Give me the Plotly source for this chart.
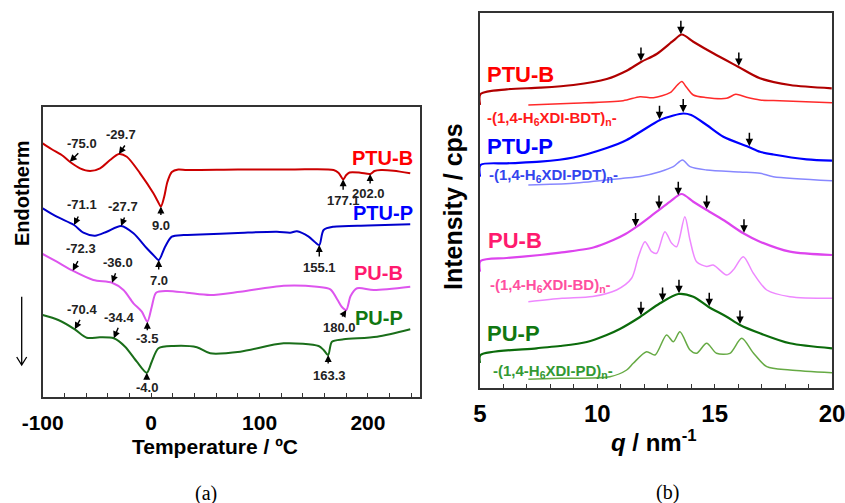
import numpy as np
import plotly.graph_objects as go

# ---------------- Panel (a): DSC ----------------
T_PTUB = [-100, -92, -82.5, -75.0, -65.6, -56.3, -47.1, -37.9, -29.7, -22.4, -10.2, 2.1, 6, 9.0, 12, 15, 19.1, 25, 33, 80, 130, 168.3, 173, 177.1, 180, 183, 193, 202.0, 206, 212, 223.7, 239]
Y_PTUB = [253.7, 248, 242, 235.3, 228.7, 226, 228.7, 237, 243, 240.3, 223.7, 203.7, 196, 190.5, 200, 215, 225, 227.5, 227, 227.5, 227.5, 227, 224, 217.7, 222, 224.5, 224.3, 223, 226, 227, 226.3, 223.7]

T_PTUP = [-100, -87, -71.1, -62.5, -51.7, -40.9, -27.7, -16.3, -4, 2, 7.0, 12.9, 19.1, 30, 45.2, 80, 116, 128.3, 134.5, 145.3, 151, 155.1, 159.1, 168.3, 200, 239]
Y_PTUP = [188.7, 180.3, 172, 164.3, 161.3, 165.3, 171, 163.7, 148.7, 142, 137, 150.3, 160.3, 162, 162.5, 164, 165.3, 164.3, 165.7, 160.3, 155, 152, 167, 170.3, 171.5, 172.7]

T_PUB = [-100, -87, -72.3, -53.3, -36.0, -25.5, -16.3, -8.6, -3.5, 0.6, 4.6, 14.5, 33, 54.5, 82.2, 122.2, 153, 165.3, 172, 176, 180.0, 184, 190, 205.3, 239]
Y_PUB = [143, 135.3, 126.3, 117, 114.3, 107, 93.7, 85.3, 75.3, 90.3, 104.3, 106, 104.3, 102, 105.3, 111.3, 110.3, 107.7, 97, 90, 87, 101, 108.7, 107, 110.3]

T_PUP = [-100, -85.6, -70.4, -59.4, -47.1, -34.4, -24, -13.2, -4.0, 0.6, 6.8, 20.6, 42.2, 54.5, 82.2, 122.2, 154.5, 159.1, 163.3, 166.8, 177.6, 208.4, 239]
Y_PUP = [82, 77, 67.7, 59.3, 59.7, 58.7, 50.3, 35.3, 24.3, 35.3, 48.7, 51, 49.7, 43.7, 45.3, 53.7, 51, 47, 42, 55.3, 57.7, 60.3, 67.7]

# peak labels for each curve
LAB_PTUB = [-75.0, -29.7, 9.0, 177.1, 202.0]
LAB_PTUP = [-71.1, -27.7, 7.0, 155.1]
LAB_PUB = [-72.3, -36.0, -3.5, 180.0]
LAB_PUP = [-70.4, -34.4, -4.0, 163.3]

TICKS_A = [-100, 0, 100, 200]

# ---------------- Panel (b): WAXS ----------------
Q_PTUB = [5.0, 5.02, 6.14, 7.56, 8.98, 10.4, 11.25, 11.86, 12.53, 13.24, 13.6, 14.09, 14.94, 16.0, 16.93, 18.21, 19.99]
I_PTUB = [283, 294, 298.7, 300.3, 303, 309, 317.3, 326, 334, 347.3, 353.5, 346.3, 334.7, 321.3, 309.7, 303, 299.7]

Q_BDT = [7.06, 8.98, 11.1, 11.82, 12.39, 13.1, 13.41, 13.6, 13.8, 14.09, 14.6, 15.51, 15.9, 16.36, 16.93, 17.5, 20]
I_BDT = [283, 284.7, 287.3, 291.3, 290.3, 295.3, 303, 306.5, 300.7, 293, 290.5, 289.7, 293.7, 290.7, 288, 287.5, 285.3]

Q_PTUP = [5.0, 5.02, 6.14, 7.56, 8.98, 10.4, 11.25, 11.82, 12.67, 13.24, 13.66, 14.0, 14.66, 15.37, 16.43, 16.93, 17.5, 18.92, 20]
I_PTUP = [211.3, 223, 224.7, 226.3, 230.5, 240, 248, 256, 268, 272.5, 274.5, 273, 263, 251.3, 241.3, 236.3, 233.5, 228.7, 227.3]

Q_PDT = [7.06, 8.98, 11.1, 11.82, 12.67, 13.24, 13.63, 13.95, 14.66, 16.08, 16.93, 17.5, 20]
I_PDT = [203, 204.7, 209.7, 211.5, 216.3, 221.3, 228, 221.3, 218, 216, 214.7, 211.3, 207.3]

Q_PUB = [5.0, 5.02, 6.14, 7.56, 8.41, 9.83, 10.68, 11.2, 11.68, 12.53, 13.1, 13.59, 14.09, 14.66, 15.37, 16.22, 16.93, 18.21, 20]
I_PUB = [116.3, 127, 130, 133, 135.3, 140.5, 148, 154, 161.3, 176.3, 186.3, 194, 186.3, 178, 168, 154.7, 146.3, 136.3, 133]

Q_BD = [7.06, 8.5, 9.8, 10.82, 11.46, 11.75, 12.03, 12.32, 12.53, 12.88, 13.17, 13.38, 13.73, 13.95, 14.23, 14.66, 14.94, 15.51, 15.79, 16.22, 16.65, 17.22, 18.21, 20]
I_BD = [86.3, 89.7, 91.5, 98, 109.7, 131.3, 146.3, 136.3, 134.7, 156.3, 144.7, 141.3, 171.3, 148, 126.3, 121.5, 123, 113, 118, 131.3, 114.7, 98, 91.3, 89.7]

Q_PUP = [5.0, 5.02, 7.41, 8.41, 9.55, 10.4, 10.96, 11.82, 12.67, 13.45, 14.09, 14.73, 15.51, 16.08, 16.93, 18.21, 20]
I_PUP = [25, 33, 39.7, 42, 46, 53, 59, 71, 84.7, 94, 91.3, 81.3, 71.3, 63, 54.7, 44.7, 39.7]

Q_PD = [7.06, 8.41, 10.54, 11.25, 11.53, 12.1, 12.46, 12.95, 13.24, 13.52, 13.95, 14.23, 14.66, 15.08, 15.65, 16.15, 16.65, 17.22, 18.21, 20]
I_PD = [8.7, 9.7, 11.3, 18, 24.7, 36.3, 33, 53, 46.3, 56.3, 38, 34.7, 44.7, 34.7, 34.7, 49.7, 35, 21.3, 18, 15.3]

ARR_PTUB = [11.86, 13.56, 16.03]
ARR_PTUP = [12.65, 13.66, 16.48]
ARR_PUB = [11.63, 12.63, 13.45, 14.66, 16.25]
ARR_PUP = [11.86, 12.78, 13.48, 14.77, 16.08]

TICKS_B = [5, 10, 15, 20]

FONT = "Liberation Sans, Arial, sans-serif"
SERIF = "Liberation Serif, Times New Roman, serif"

fig = go.Figure()

def line(x, y, color, width, xa="x", ya="y"):
    fig.add_trace(go.Scatter(x=x, y=y, mode="lines", xaxis=xa, yaxis=ya,
                             line=dict(color=color, width=width, shape="spline", smoothing=0.8),
                             showlegend=False, hoverinfo="skip"))

line(T_PTUB, Y_PTUB, "#cc0000", 2)
line(T_PTUP, Y_PTUP, "#0000cc", 2)
line(T_PUB, Y_PUB, "#dd55ee", 2)
line(T_PUP, Y_PUP, "#1a6e1a", 2)

line(Q_PTUB, I_PTUB, "#b00000", 2.2, "x2", "y2")
line(Q_BDT, I_BDT, "#ff2a2a", 1.5, "x2", "y2")
line(Q_PTUP, I_PTUP, "#0000ff", 2.2, "x2", "y2")
line(Q_PDT, I_PDT, "#8888ff", 1.5, "x2", "y2")
line(Q_PUB, I_PUB, "#dd44ee", 2.2, "x2", "y2")
line(Q_BD, I_BD, "#ee88ff", 1.5, "x2", "y2")
line(Q_PUP, I_PUP, "#0b6b0b", 2.2, "x2", "y2")
line(Q_PD, I_PD, "#66aa44", 1.5, "x2", "y2")

ann = []

# panel a peak arrows + labels: (arrow ax, ay, text xshift, yshift)
STY_PTUB = [(10, -10, 12, 18), (7, -10, 2, 19), (0, 10, 0, -19), (0, 12, 0, -21), (0, 11, -2, -20)]
STY_PTUP = [(5, -10, 8, 20), (4, -10, 2, 19), (0, 11, 0, -20), (0, 13, 0, -22)]
STY_PUB = [(6, -11, 8, 22), (4, -11, 6, 20), (0, 10, 0, -17), (-5, 8, -7, -17)]
STY_PUP = [(6, -11, 7, 20), (5, -12, 5, 21), (0, 8, 0, -15), (0, 10, 1, -20)]

for labs, sty, tx, ty in [(LAB_PTUB, STY_PTUB, T_PTUB, Y_PTUB), (LAB_PTUP, STY_PTUP, T_PTUP, Y_PTUP),
                          (LAB_PUB, STY_PUB, T_PUB, Y_PUB), (LAB_PUP, STY_PUP, T_PUP, Y_PUP)]:
    for v, (ax, ay, xs, ys) in zip(labs, sty):
        yv = float(np.interp(v, tx, ty))
        ann.append(dict(x=v, y=yv, xref="x", yref="y", text="", showarrow=True, ax=ax, ay=ay,
                        arrowhead=2, arrowsize=1, arrowwidth=1.4, arrowcolor="black"))
        ann.append(dict(x=v, y=yv, xref="x", yref="y", text=f"{v:.1f}", showarrow=False,
                        xshift=xs, yshift=ys, font=dict(family=FONT, size=13, color="#222", weight="bold")))

# panel b arrows
for arrs, qx, iy in [(ARR_PTUB, Q_PTUB, I_PTUB), (ARR_PTUP, Q_PTUP, I_PTUP),
                     (ARR_PUB, Q_PUB, I_PUB), (ARR_PUP, Q_PUP, I_PUP)]:
    for q in arrs:
        yv = float(np.interp(q, qx, iy))
        ann.append(dict(x=q, y=yv + 1, xref="x2", yref="y2", text="", showarrow=True, ax=0, ay=-15,
                        arrowhead=2, arrowsize=1, arrowwidth=1.5, arrowcolor="black"))

# sample labels panel a
for txt, col, x, y in [("PTU-B", "#ff0000", 243.8, 238.7), ("PTU-P", "#0000ff", 243.8, 183.7),
                       ("PU-B", "#ff1a6e", 234.5, 123.7), ("PU-P", "#117711", 234.5, 78.7)]:
    ann.append(dict(x=x, y=y, xref="x", yref="y", text=txt, showarrow=False, xanchor="right",
                    font=dict(family=FONT, size=20, color=col, weight="bold")))

# sample labels panel b
for txt, col, size, x, y in [
        ("PTU-B", "#ff0000", 22, 5.21, 314),
        ("-(1,4-H<sub>6</sub>XDI-BDT)<sub>n</sub>-", "#ff1a1a", 15, 5.21, 269.7),
        ("PTU-P", "#0000ff", 22, 5.21, 241.3),
        ("-(1,4-H<sub>6</sub>XDI-PDT)<sub>n</sub>-", "#3344ee", 15, 5.28, 213),
        ("PU-B", "#ff1a6e", 22, 5.26, 148),
        ("-(1,4-H<sub>6</sub>XDI-BD)<sub>n</sub>-", "#ff4fa0", 15, 5.36, 103),
        ("PU-P", "#117711", 22, 5.21, 54.7),
        ("-(1,4-H<sub>6</sub>XDI-PD)<sub>n</sub>-", "#339933", 15, 5.46, 16.3)]:
    ann.append(dict(x=x, y=y, xref="x2", yref="y2", text=txt, showarrow=False, xanchor="left",
                    font=dict(family=FONT, size=size, color=col, weight="bold")))

# axis titles and panel captions (paper coordinates, centred)
def paper_text(px, py, text, size, family=FONT, weight="bold", angle=0):
    return dict(x=px / 845, y=1 - py / 503, xref="paper", yref="paper", text=text, showarrow=False,
                xanchor="center", yanchor="middle", textangle=angle,
                font=dict(family=family, size=size, color="black", weight=weight))

ann += [
    paper_text(215, 446.7, "Temperature / ºC", 21),
    paper_text(654, 441, "<i>q</i> / nm<sup>-1</sup>", 24),
    paper_text(22, 193, "Endotherm", 20, angle=-90),
    paper_text(453, 207, "Intensity / cps", 25, angle=-90),
    paper_text(206, 493, "(a)", 20, family=SERIF, weight="normal"),
    paper_text(667, 492, "(b)", 20, family=SERIF, weight="normal"),
]

x0 = 21.7 / 845
shapes = [dict(type="path", xref="paper", yref="paper",
               path=f"M {x0},{1-296.7/503} L {x0},{1-365/503} M {x0-5/845},{1-357/503} L {x0},{1-365/503} L {x0+5/845},{1-357/503}",
               line=dict(color="black", width=1.3))]

axcommon = dict(showgrid=False, zeroline=False, showline=True, mirror=True, linecolor="#333", linewidth=1.6,
                automargin=False)

fig.update_layout(
    width=845, height=503, autosize=False,
    margin=dict(l=0, r=0, t=0, b=0, pad=0),
    paper_bgcolor="white", plot_bgcolor="white",
    showlegend=False,
    xaxis=dict(domain=[42.7 / 845, 420 / 845], range=[-100, 248], tickvals=TICKS_A,
               ticktext=[str(t) for t in TICKS_A], ticks="inside", ticklen=4, tickcolor="#333",
               minor=dict(ticks="inside", ticklen=4, tickcolor="#333", dtick=20, tick0=0),
               tickfont=dict(family=FONT, size=21, color="black", weight="bold"),
               ticklabelstandoff=6, ticklabeloverflow="allow", anchor="y", **axcommon),
    yaxis=dict(domain=[1 - 397 / 503, 1 - 107 / 503], range=[0, 290], showticklabels=False, ticks="",
               anchor="x", **axcommon),
    xaxis2=dict(domain=[480 / 845, 832 / 845], range=[5, 20.001], tickvals=TICKS_B,
                ticktext=[str(t) for t in TICKS_B], ticks="inside", ticklen=4, tickcolor="#333",
                minor=dict(ticks="inside", ticklen=4, tickcolor="#333", dtick=1, tick0=0),
                tickfont=dict(family=FONT, size=24, color="black", weight="bold"),
                ticklabelstandoff=3, ticklabeloverflow="allow", anchor="y2", **axcommon),
    yaxis2=dict(domain=[1 - 388 / 503, 1 - 13 / 503], range=[0, 375], showticklabels=False, ticks="",
                anchor="x2", **axcommon),
    annotations=ann,
    shapes=shapes,
)

fig.write_html("out.html")
